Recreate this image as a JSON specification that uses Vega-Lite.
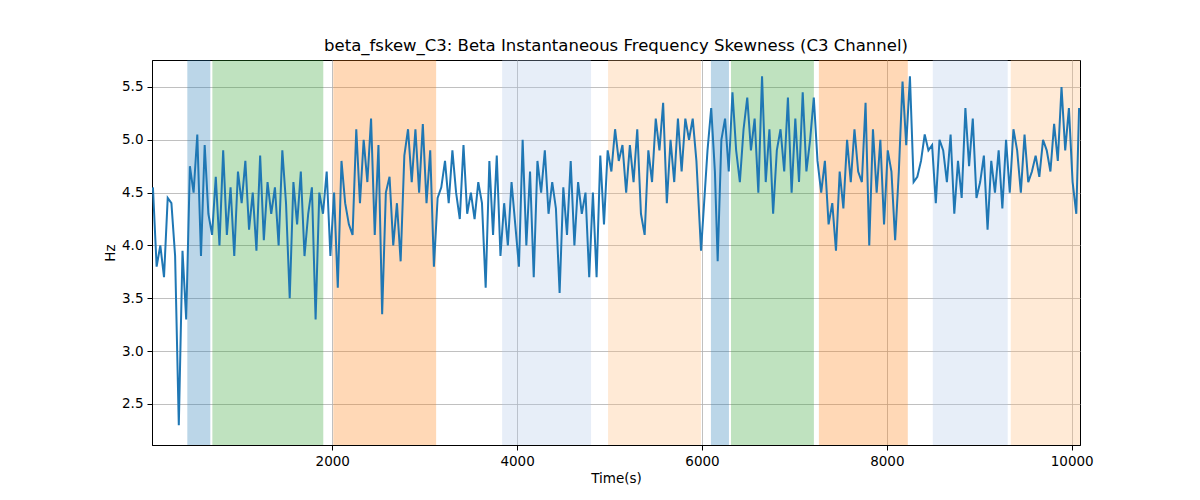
{
"$schema":"https://vega.github.io/schema/vega-lite/v6.json",
"width":928,"height":385,
"autosize":{"type":"none"},
"padding":{"left":152,"top":60,"right":120,"bottom":55},
"title":{"text":"beta_fskew_C3: Beta Instantaneous Frequency Skewness (C3 Channel)","font":"DejaVu Sans","fontSize":16.5,"fontWeight":"normal","color":"black","offset":6},
"config":{"view":{"stroke":"black","strokeWidth":1},"axis":{"labelFont":"DejaVu Sans","titleFont":"DejaVu Sans","labelFontSize":13.5,"titleFontSize":13.5,"titleFontWeight":"normal","labelColor":"black","titleColor":"black","gridColor":"#b0b0b0","gridWidth":0.8,"domainColor":"black","tickColor":"black","tickSize":5,"labelPadding":4,"zindex":1}},
"datasets":{
"bands":[
{"s":432,"e":681,"k":"a"},{"s":703,"e":1903,"k":"b"},{"s":2011,"e":3124,"k":"c"},{"s":3838,"e":4800,"k":"d"},{"s":4984,"e":5989,"k":"e"},
{"s":6097,"e":6292,"k":"a"},{"s":6314,"e":7211,"k":"b"},{"s":7265,"e":8227,"k":"c"},{"s":8497,"e":9308,"k":"d"},{"s":9341,"e":10090,"k":"e"}],
"line":[
{"t":60,"v":4.55},{"t":100,"v":3.8},{"t":140,"v":4.0},{"t":180,"v":3.7},{"t":220,"v":4.45},{"t":260,"v":4.4},{"t":300,"v":3.9},{"t":340,"v":2.3},{"t":380,"v":3.95},{"t":420,"v":3.3},{"t":460,"v":4.75},{"t":500,"v":4.5},{"t":540,"v":5.05},{"t":580,"v":3.9},{"t":620,"v":4.95},{"t":660,"v":4.3},{"t":700,"v":4.1},{"t":740,"v":4.65},{"t":780,"v":4.0},{"t":820,"v":4.9},{"t":860,"v":4.1},{"t":900,"v":4.55},{"t":940,"v":3.9},{"t":980,"v":4.7},{"t":1020,"v":4.4},{"t":1060,"v":4.8},{"t":1100,"v":4.15},{"t":1140,"v":4.5},{"t":1180,"v":3.95},{"t":1220,"v":4.85},{"t":1260,"v":4.05},{"t":1300,"v":4.6},{"t":1340,"v":4.3},{"t":1380,"v":4.55},{"t":1420,"v":4.0},{"t":1460,"v":4.9},{"t":1500,"v":4.4},{"t":1540,"v":3.5},{"t":1580,"v":4.6},{"t":1620,"v":4.2},{"t":1660,"v":4.7},{"t":1700,"v":3.9},{"t":1740,"v":4.3},{"t":1780,"v":4.55},{"t":1820,"v":3.3},{"t":1860,"v":4.5},{"t":1900,"v":4.3},{"t":1940,"v":4.7},{"t":1980,"v":3.9},{"t":2020,"v":4.5},{"t":2060,"v":3.6},{"t":2100,"v":4.8},{"t":2140,"v":4.4},{"t":2180,"v":4.2},{"t":2220,"v":4.1},{"t":2260,"v":5.1},{"t":2300,"v":4.4},{"t":2340,"v":5.0},{"t":2380,"v":4.6},{"t":2420,"v":5.2},{"t":2460,"v":4.1},{"t":2500,"v":4.95},{"t":2540,"v":3.35},{"t":2580,"v":4.5},{"t":2620,"v":4.65},{"t":2660,"v":4.0},{"t":2700,"v":4.4},{"t":2740,"v":3.85},{"t":2780,"v":4.85},{"t":2820,"v":5.1},{"t":2860,"v":4.6},{"t":2900,"v":5.1},{"t":2940,"v":4.5},{"t":2980,"v":5.15},{"t":3020,"v":4.4},{"t":3060,"v":4.9},{"t":3100,"v":3.8},{"t":3140,"v":4.45},{"t":3180,"v":4.55},{"t":3220,"v":4.8},{"t":3260,"v":4.4},{"t":3300,"v":4.9},{"t":3340,"v":4.5},{"t":3380,"v":4.25},{"t":3420,"v":4.95},{"t":3460,"v":4.3},{"t":3500,"v":4.5},{"t":3540,"v":4.25},{"t":3580,"v":4.6},{"t":3620,"v":4.4},{"t":3660,"v":3.6},{"t":3700,"v":4.8},{"t":3740,"v":4.1},{"t":3780,"v":4.85},{"t":3820,"v":3.9},{"t":3860,"v":4.4},{"t":3900,"v":4.0},{"t":3940,"v":4.6},{"t":3980,"v":4.2},{"t":4020,"v":3.8},{"t":4060,"v":5.0},{"t":4100,"v":4.0},{"t":4140,"v":4.7},{"t":4180,"v":3.7},{"t":4220,"v":4.8},{"t":4260,"v":4.5},{"t":4300,"v":4.9},{"t":4340,"v":4.3},{"t":4380,"v":4.6},{"t":4420,"v":4.35},{"t":4460,"v":3.55},{"t":4500,"v":4.55},{"t":4540,"v":4.1},{"t":4580,"v":4.8},{"t":4620,"v":4.0},{"t":4660,"v":4.6},{"t":4700,"v":4.3},{"t":4740,"v":4.5},{"t":4780,"v":3.7},{"t":4820,"v":4.5},{"t":4860,"v":3.7},{"t":4900,"v":4.85},{"t":4940,"v":4.2},{"t":4980,"v":4.9},{"t":5020,"v":4.7},{"t":5060,"v":5.1},{"t":5100,"v":4.8},{"t":5140,"v":4.95},{"t":5180,"v":4.5},{"t":5220,"v":4.95},{"t":5260,"v":4.6},{"t":5300,"v":5.1},{"t":5340,"v":4.3},{"t":5380,"v":4.1},{"t":5420,"v":4.9},{"t":5460,"v":4.6},{"t":5500,"v":5.2},{"t":5540,"v":4.9},{"t":5580,"v":5.35},{"t":5620,"v":4.4},{"t":5660,"v":5.0},{"t":5700,"v":4.6},{"t":5740,"v":5.2},{"t":5780,"v":4.7},{"t":5820,"v":5.2},{"t":5860,"v":5.0},{"t":5900,"v":5.2},{"t":5940,"v":4.8},{"t":5990,"v":3.95},{"t":6060,"v":4.9},{"t":6100,"v":5.3},{"t":6140,"v":4.7},{"t":6170,"v":3.85},{"t":6210,"v":5.0},{"t":6250,"v":5.2},{"t":6290,"v":4.7},{"t":6330,"v":5.45},{"t":6370,"v":4.9},{"t":6410,"v":4.6},{"t":6450,"v":5.1},{"t":6490,"v":5.4},{"t":6530,"v":4.9},{"t":6570,"v":5.2},{"t":6610,"v":4.5},{"t":6650,"v":5.6},{"t":6690,"v":4.6},{"t":6730,"v":5.1},{"t":6770,"v":4.3},{"t":6810,"v":4.9},{"t":6850,"v":5.1},{"t":6890,"v":4.7},{"t":6930,"v":5.4},{"t":6970,"v":4.5},{"t":7010,"v":5.2},{"t":7050,"v":4.6},{"t":7090,"v":5.45},{"t":7130,"v":4.7},{"t":7170,"v":5.0},{"t":7210,"v":5.4},{"t":7250,"v":4.8},{"t":7290,"v":4.5},{"t":7330,"v":4.8},{"t":7370,"v":4.2},{"t":7410,"v":4.4},{"t":7450,"v":3.95},{"t":7490,"v":4.7},{"t":7530,"v":4.35},{"t":7570,"v":5.0},{"t":7610,"v":4.6},{"t":7650,"v":5.1},{"t":7690,"v":4.7},{"t":7730,"v":4.6},{"t":7770,"v":5.35},{"t":7810,"v":4.0},{"t":7850,"v":5.1},{"t":7890,"v":4.5},{"t":7930,"v":5.0},{"t":7970,"v":4.2},{"t":8010,"v":4.9},{"t":8050,"v":4.7},{"t":8090,"v":4.05},{"t":8130,"v":4.7},{"t":8170,"v":5.55},{"t":8210,"v":4.95},{"t":8250,"v":5.6},{"t":8290,"v":4.6},{"t":8330,"v":4.65},{"t":8370,"v":4.8},{"t":8410,"v":5.05},{"t":8450,"v":4.9},{"t":8490,"v":4.95},{"t":8530,"v":4.4},{"t":8570,"v":5.0},{"t":8610,"v":4.9},{"t":8650,"v":4.6},{"t":8690,"v":5.05},{"t":8730,"v":4.3},{"t":8770,"v":4.8},{"t":8810,"v":4.45},{"t":8850,"v":5.3},{"t":8890,"v":4.75},{"t":8930,"v":5.2},{"t":8970,"v":4.45},{"t":9010,"v":4.6},{"t":9050,"v":4.85},{"t":9090,"v":4.15},{"t":9130,"v":4.8},{"t":9170,"v":4.5},{"t":9210,"v":4.9},{"t":9250,"v":4.35},{"t":9290,"v":5.0},{"t":9330,"v":4.5},{"t":9370,"v":5.1},{"t":9410,"v":4.9},{"t":9450,"v":4.5},{"t":9490,"v":5.05},{"t":9530,"v":4.6},{"t":9570,"v":4.7},{"t":9610,"v":4.85},{"t":9650,"v":4.65},{"t":9690,"v":5.0},{"t":9730,"v":4.9},{"t":9770,"v":4.7},{"t":9810,"v":5.15},{"t":9850,"v":4.8},{"t":9890,"v":5.5},{"t":9930,"v":4.9},{"t":9970,"v":5.3},{"t":10010,"v":4.6},{"t":10050,"v":4.3},{"t":10080,"v":5.3}]
},
"layer":[
{"data":{"name":"bands"},"mark":{"type":"rect","opacity":0.3},
"encoding":{"x":{"field":"s","type":"quantitative","scale":{"domain":[50,10090],"nice":false,"zero":false},"axis":{"title":"Time(s)","values":[2000,4000,6000,8000,10000],"format":"d","grid":true}},
"x2":{"field":"e"},
"color":{"field":"k","type":"nominal","legend":null,"scale":{"domain":["a","b","c","d","e"],"range":["#1f77b4","#2ca02c","#ff7f0e","#aec7e8","#ffbb78"]}}}},
{"data":{"name":"line"},"mark":{"type":"line","color":"#1f77b4","strokeWidth":2,"clip":true},
"encoding":{"x":{"field":"t","type":"quantitative"},
"y":{"field":"v","type":"quantitative","scale":{"domain":[2.112,5.755],"nice":false,"zero":false},"axis":{"title":"Hz","values":[2.5,3.0,3.5,4.0,4.5,5.0,5.5],"format":".1f","grid":true}}}}
]
}
